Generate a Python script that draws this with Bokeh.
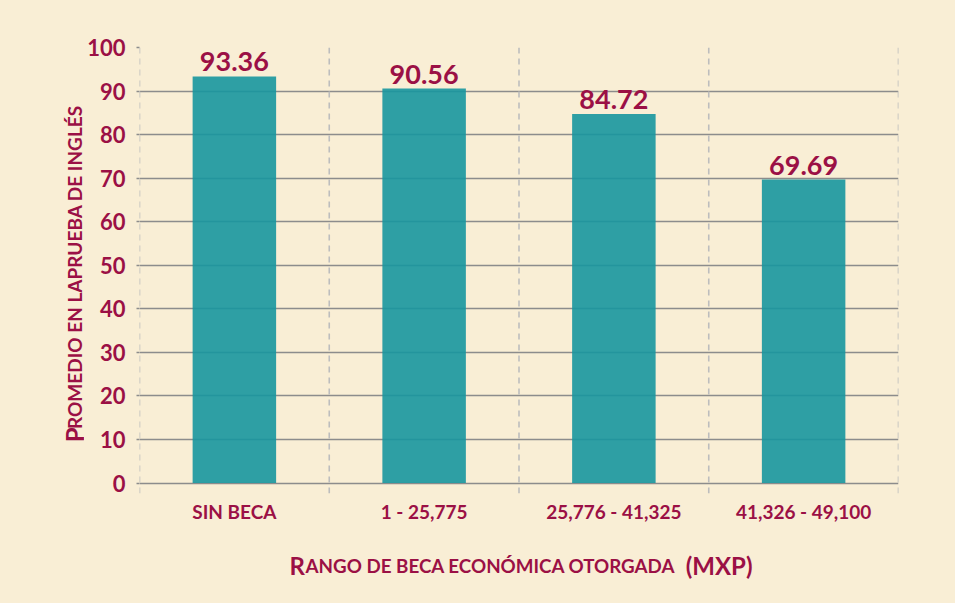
import math
from bokeh.plotting import figure
from bokeh.layouts import row, column
from bokeh.models import (ColumnDataSource, FactorRange, Range1d, FixedTicker,
                          Span, Label, LabelSet)
from bokeh.core.properties import value
from bokeh.embed import file_html
from bokeh.resources import INLINE

categories = ["SIN BECA", "1 - 25,775", "25,776 - 41,325", "41,326 - 49,100"]
values = [93.36, 90.56, 84.72, 69.69]
value_labels = ["93.36", "90.56", "84.72", "69.69"]
y_ticks = [0, 10, 20, 30, 40, 50, 60, 70, 80, 90, 100]

BG = "#f9eed5"
CRIMSON = "#9b1045"
TEAL = "#17969f"
FONT = "Lato"

# ---------------- main chart ----------------
p = figure(x_range=FactorRange(*categories, range_padding=0, factor_padding=0),
           y_range=Range1d(-2.4, 100),
           width=871, height=540,
           min_border_left=54, min_border_right=57,
           min_border_top=47, min_border_bottom=47,
           output_backend="svg", toolbar_location=None)
p.background_fill_color = BG
p.border_fill_color = BG
p.outline_line_color = None

p.xgrid.grid_line_color = None
p.ygrid.grid_line_color = "#8c8c8c"
p.ygrid.grid_line_width = 1.6

for i in range(len(categories) + 1):
    p.add_layout(Span(location=i, dimension="height", line_color="#bdbdbd",
                      line_width=1.6, line_dash="6 5"))

src = ColumnDataSource(dict(x=categories, top=values, lab=value_labels))
p.vbar(x="x", top="top", width=0.44, source=src, fill_color=TEAL,
       fill_alpha=0.9, line_color=None)

p.add_layout(LabelSet(x="x", y="top", text="lab", source=src,
                      text_align="center", text_baseline="bottom", y_offset=5,
                      text_font=value(FONT), text_font_style="bold",
                      text_font_size="27px", text_color=CRIMSON))

p.yaxis.ticker = FixedTicker(ticks=y_ticks)
p.yaxis.axis_line_color = None
p.yaxis.major_tick_in = 0
p.yaxis.major_tick_out = 3
p.yaxis.major_tick_line_color = "#8c8c8c"
p.yaxis.major_tick_line_width = 1.6
p.yaxis.minor_tick_line_color = None
p.yaxis.major_label_standoff = 11
p.yaxis.major_label_text_font = FONT
p.yaxis.major_label_text_font_style = "bold"
p.yaxis.major_label_text_font_size = "22px"
p.yaxis.major_label_text_color = CRIMSON

p.xaxis.axis_line_color = None
p.xaxis.major_tick_line_color = None
p.xaxis.minor_tick_line_color = None
p.xaxis.major_label_standoff = 0
p.xaxis.major_label_text_font = FONT
p.xaxis.major_label_text_font_style = "bold"
p.xaxis.major_label_text_font_size = "19px"
p.xaxis.major_label_text_color = CRIMSON


# ---------------- title panels ----------------
def panel(w, h):
    f = figure(width=w, height=h, title=None, x_range=Range1d(0, w),
               y_range=Range1d(0, h), x_axis_location=None,
               y_axis_location=None,
               min_border_left=0, min_border_right=0,
               min_border_top=0, min_border_bottom=0,
               output_backend="svg", toolbar_location=None)
    f.background_fill_color = BG
    f.border_fill_color = BG
    f.outline_line_color = None
    f.grid.visible = False
    return f


def lab(f, text, x, y, size, align="left", angle=0):
    f.add_layout(Label(x=x, y=y, x_units="data", y_units="data",
                       text=text, text_align=align,
                       text_baseline="alphabetic", angle=angle,
                       text_font=FONT, text_font_style="bold",
                       text_font_size=size, text_color=CRIMSON))


# left panel: its frame is aligned with the chart frame (446 px tall)
left = panel(84, 540)
lab(left, "P", 74, 62, "24px", angle=math.pi / 2)
lab(left, "ROMEDIO EN LAPRUEBA DE INGLÉS", 74, 78, "19px", angle=math.pi / 2)

bottom = panel(955, 63)
lab(bottom, "R", 289, 38, "24px")
lab(bottom, "ANGO DE BECA ECONÓMICA OTORGADA", 305, 38, "18.8px")
lab(bottom, "(MXP)", 752, 38, "24px", align="right")

layout = column(row(left, p, spacing=0, styles={"background-color": BG}),
                bottom, spacing=0, styles={"background-color": BG})

open("out.html", "w").write(file_html(layout, INLINE))
